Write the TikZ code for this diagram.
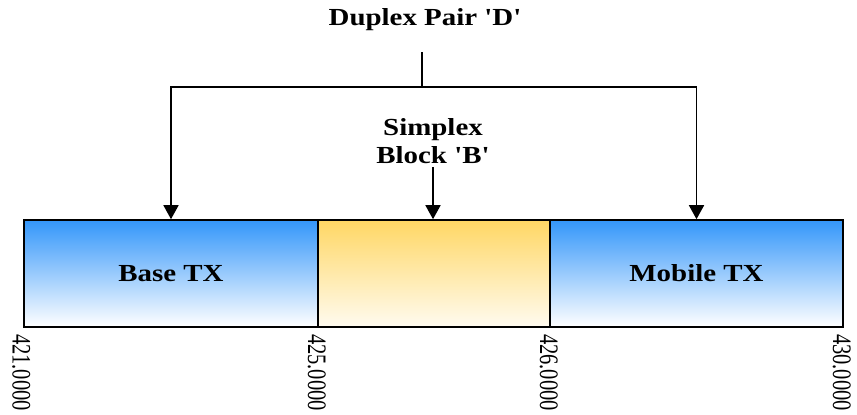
\documentclass[tikz,border=0pt]{standalone}
\usepackage{fontspec}
\setmainfont{Liberation Serif}
\newfontfamily\widefont[FakeStretch=1.18]{Liberation Serif}
\usepackage{tikz}
\usetikzlibrary{arrows.meta,positioning}
\definecolor{bandblue}{RGB}{51,150,250}
\definecolor{bandyellow}{RGB}{255,215,100}
\definecolor{bandpale}{RGB}{255,251,240}
\tikzstyle{band}=[draw, line width=1.6pt, minimum height=107pt, inner sep=0pt, font=\widefont\bfseries\fontsize{24.5}{28}\selectfont]
\tikzstyle{txband}=[band, top color=bandblue, bottom color=white]
\tikzstyle{gapband}=[band, top color=bandyellow, bottom color=bandpale]
\tikzstyle{lbl}=[align=center, inner sep=0pt, font=\widefont\bfseries\fontsize{24.5}{28}\selectfont]
\tikzstyle{freq}=[anchor=west, xscale=1.3, rotate=-90, inner sep=0pt, font=\fontsize{20.5}{24}\selectfont]
\tikzstyle{arr}=[line width=1.6pt, -{Triangle[width=15pt,length=14pt]}]

\begin{document}
\begin{tikzpicture}[x=1pt, y=-1pt]
		\useasboundingbox (0,0) rectangle (857,415);

		% frequency bands
		\node[txband, minimum width=294pt] (base) at (171,273.5) {Base TX};
		\node[gapband, minimum width=232pt] (gap) at (434,273.5) {};
		\node[txband, minimum width=293pt] (mobile) at (696.5,273.5) {Mobile TX};

		% band edges
		\node[freq] (f421) at ([xshift=-2pt,yshift=-6pt]base.south west) {421.0000};
		\node[freq] (f425) at ([xshift=-2pt,yshift=-6pt]base.south east) {425.0000};
		\node[freq] (f426) at ([xshift=-2pt,yshift=-6pt]gap.south east) {426.0000};
		\node[freq] (f430) at ([xshift=-2pt,yshift=-6pt]mobile.south east) {430.0000};

		% labels
		\node[lbl] (duplex) at (425,20) {Duplex Pair 'D'};
		\node[lbl] (simplex) at (433,141) {Simplex\\Block 'B'};

		\coordinate (stem) at (422,52);
		\coordinate (joint) at (422,87);
		\coordinate (drop) at (433,167);
		\draw[line width=1.6pt] (stem) -- (joint);
		\draw[arr] (joint) -| (base.north);
		\draw[arr] (joint) -| (mobile.north);
		\draw[arr] (drop) -- (gap.north -| drop);

\end{tikzpicture}
\end{document}
